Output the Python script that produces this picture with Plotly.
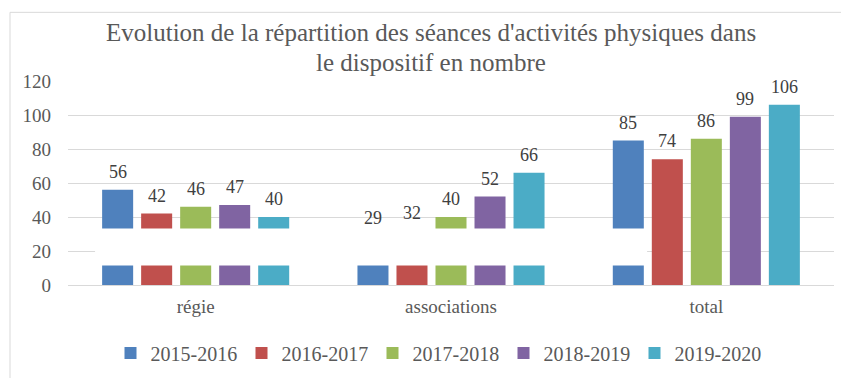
import plotly.graph_objects as go

# Séances d'activités physiques par saison et par type de dispositif
categories = ["régie", "associations", "total"]
seasons = ["2015-2016", "2016-2017", "2017-2018", "2018-2019", "2019-2020"]
values = {
    "2015-2016": [56, 29, 85],
    "2016-2017": [42, 32, 74],
    "2017-2018": [46, 40, 86],
    "2018-2019": [47, 52, 99],
    "2019-2020": [40, 66, 106],
}
colors = ["#4F81BD", "#C0504D", "#9BBB59", "#8064A2", "#4BACC6"]
y_ticks = [0, 20, 40, 60, 80, 100, 120]

FONT = "Liberation Serif"
GRID = "#d9d9d9"
BARGAP = 0.236
GROUPGAP = 0.205

W, H = 841, 378
ML, MR, MT, MB = 68, 7, 81, 92
PW, PH = W - ML - MR, H - MT - MB


def px_x(px):
    return (px - ML) / PW


def px_y(px):
    return (H - MB - px) / PH


fig = go.Figure()
for s, c in zip(seasons, colors):
    fig.add_trace(go.Bar(
        name=s, x=categories, y=values[s], marker_color=c,
        marker_line_width=0,
    ))

# value labels above each bar
slot = (1 - BARGAP) / len(seasons)
for i, s in enumerate(seasons):
    for ci, v in enumerate(values[s]):
        fig.add_annotation(
            x=ci + (i - (len(seasons) - 1) / 2) * slot, y=v,
            xref="x", yref="y", text=str(v), showarrow=False,
            yanchor="bottom", yshift=6,
            font=dict(family=FONT, size=18, color="#404040"),
        )

# title on two lines
for txt, yc in [("Evolution de la répartition des séances d'activités physiques dans", 32),
                ("le dispositif en nombre", 62.5)]:
    fig.add_annotation(
        x=px_x(431), y=px_y(yc), xref="paper", yref="paper",
        text=txt, showarrow=False, xanchor="center", yanchor="middle",
        font=dict(family=FONT, size=25, color="#595959"),
    )

# chart frame
fig.add_shape(type="rect", xref="paper", yref="paper",
              x0=px_x(10), x1=px_x(W + 20), y0=px_y(H + 20), y1=px_y(12),
              line=dict(color=GRID, width=1), fillcolor="rgba(0,0,0,0)", layer="below")

# blank band across the lower part of the bars
fig.add_shape(type="rect", xref="x", yref="y",
              x0=-0.394, x1=1.768, y0=11.5, y1=33.2,
              fillcolor="white", line_width=0, layer="above")

fig.update_layout(
    width=W, height=H,
    margin=dict(l=ML, r=MR, t=MT, b=MB),
    paper_bgcolor="white", plot_bgcolor="white",
    barmode="group", bargap=BARGAP, bargroupgap=GROUPGAP,
    showlegend=True,
    legend=dict(orientation="h", x=px_x(438), y=px_y(353),
                xanchor="center", yanchor="middle",
                font=dict(family=FONT, size=20, color="#595959"),
                itemwidth=30, entrywidth=86, entrywidthmode="pixels",
                traceorder="normal"),
    font=dict(family=FONT, color="#595959"),
)
fig.update_xaxes(
    showgrid=False, showline=False, zeroline=False,
    ticks="", ticklabelstandoff=8,
    tickfont=dict(family=FONT, size=19, color="#595959"),
)
fig.update_yaxes(
    range=[0, 120], tickvals=y_ticks, showgrid=True, gridcolor=GRID, gridwidth=1,
    zeroline=True, zerolinecolor=GRID, zerolinewidth=1, showline=False,
    ticks="", ticklabelstandoff=16,
    tickfont=dict(family=FONT, size=19, color="#595959"),
)

fig.write_html("out.html")
